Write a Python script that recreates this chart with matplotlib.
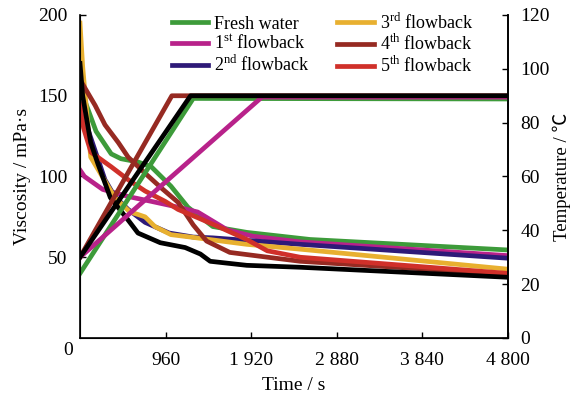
# -*- coding: utf-8 -*-
# Viscosity and temperature vs time for fresh water and flowback fluids
import matplotlib
matplotlib.use("Agg")
import matplotlib.pyplot as plt

plt.rcParams['font.family'] = ['Liberation Serif', 'Noto Sans CJK SC', 'DejaVu Serif']
plt.rcParams['mathtext.fontset'] = 'custom'
plt.rcParams['mathtext.rm'] = 'Liberation Serif'

# viscosity curves (time / s, viscosity / mPa.s)
green_t = [0, 60, 180, 350, 460, 650, 800, 1020, 1210, 1490, 1870, 2580, 4800]
green_v = [165, 146, 128, 114, 111, 109, 106, 94, 81, 69, 65.4, 61, 54.5]

magenta_t = [0, 50, 255, 540, 800, 1100, 1320, 1650, 1940, 2470, 4800]
magenta_v = [104, 100, 92, 87.6, 84.6, 81, 78, 67, 63, 59.5, 51]

blue_t = [0, 90, 280, 390, 540, 730, 1000, 1270, 1490, 2470, 4800]
blue_v = [168, 129, 98, 87.6, 79.6, 71.6, 65, 62.5, 62, 58, 49.4]

gold_t = [0, 30, 120, 390, 560, 650, 730, 840, 1020, 1240, 1870, 2470, 4800]
gold_v = [195, 168, 112, 87, 78, 76.5, 75, 69, 64, 62.5, 58, 55, 42.6]

brown_t = [0, 170, 280, 430, 540, 730, 910, 1100, 1270, 1420, 1680, 2020, 2470, 4800]
brown_v = [160, 144, 132, 121, 112, 102, 93, 84, 70, 60, 53, 50.6, 47.5, 39.5]

red_t = [0, 40, 123, 350, 540, 730, 955, 1100, 1320, 1570, 1870, 2100, 2470, 4800]
red_v = [145, 130, 115, 106, 98, 91, 84.6, 79.6, 74.5, 68.5, 61, 54, 50, 40]

black_t = [0, 30, 120, 200, 340, 540, 650, 900, 1180, 1350, 1460, 1870, 2470, 4800]
black_v = [170, 150, 121, 108, 87, 73, 65, 59, 56, 52, 47.5, 45, 43.8, 37.6]

# temperature curves (time / s, temperature / C)
tb_t = [0, 1240, 4800]
tb_T = [30, 90, 90]
tbr_t = [0, 1030, 4800]
tbr_T = [30, 90, 90]
tg_t = [0, 1270, 4800]
tg_T = [24, 89, 88.8]
tm_t = [0, 2040, 4800]
tm_T = [30, 89.5, 89.5]

labels = ["Fresh water", r"1$^{\rm st}$ flowback", r"2$^{\rm nd}$ flowback",
          r"3$^{\rm rd}$ flowback", r"4$^{\rm th}$ flowback", r"5$^{\rm th}$ flowback"]
xticks = [960, 1920, 2880, 3840, 4800]
xticklabels = ["960", "1 920", "2 880", "3 840", "4 800"]

c_green = '#3d9b3a'
c_mag = '#b8228a'
c_blue = '#2e1a78'
c_gold = '#e8b030'
c_brown = '#962a22'
c_red = '#d0302a'

lw = 3.4
fs = 14

fig = plt.figure(figsize=(5.75, 4.04), dpi=100)
ax = fig.add_axes([80/575, 66/404, 428/575, 323/404])

h = []
h += ax.plot(green_t, green_v, color=c_green, lw=lw)
h += ax.plot(magenta_t, magenta_v, color=c_mag, lw=lw)
h += ax.plot(blue_t, blue_v, color=c_blue, lw=lw)
h += ax.plot(gold_t, gold_v, color=c_gold, lw=lw)
h += ax.plot(brown_t, brown_v, color=c_brown, lw=lw)
h += ax.plot(red_t, red_v, color=c_red, lw=lw)
ax.plot(black_t, black_v, color='black', lw=lw)

ax.set_xlim(0, 4800)
ax.set_ylim(0, 200)
ax.set_xticks(xticks)
ax.set_xticklabels(xticklabels)
ax.set_yticks([50, 100, 150, 200])
ax.tick_params(direction='in', length=4, width=1, labelsize=fs)
ax.tick_params(axis='x', pad=10)
ax.tick_params(axis='y', pad=9)
ax.spines['top'].set_visible(False)
for s in ['left', 'bottom', 'right']:
    ax.spines[s].set_linewidth(1.2)
ax.text(-0.028, -0.04, "0", transform=ax.transAxes, ha='center', va='center', fontsize=fs)

ax.set_xlabel("Time / s", fontsize=fs, labelpad=6)
ax.set_ylabel("Viscosity / mPa·s", fontsize=fs, labelpad=5)

ax2 = ax.twinx()
ax2.plot(tg_t, tg_T, color=c_green, lw=lw)
ax2.plot(tm_t, tm_T, color=c_mag, lw=lw)
ax2.plot(tbr_t, tbr_T, color=c_brown, lw=lw)
ax2.plot(tb_t, tb_T, color='black', lw=lw)
ax2.set_ylim(0, 120)
ax2.set_yticks([0, 20, 40, 60, 80, 100, 120])
ax2.tick_params(direction='in', length=4, width=1, labelsize=fs, pad=9)
ax2.spines['top'].set_visible(False)
ax2.spines['right'].set_linewidth(1.2)
ax2.set_ylabel("Temperature / ℃", fontsize=13.5, labelpad=2)

ax.legend(h, labels, ncol=2, loc='upper left', bbox_to_anchor=(0.215, 1.008),
          frameon=False, fontsize=13, handlelength=2.0, handletextpad=0.35,
          labelspacing=0.1, columnspacing=1.5, borderpad=0, borderaxespad=0)

fig.savefig("out.png", dpi=100)
